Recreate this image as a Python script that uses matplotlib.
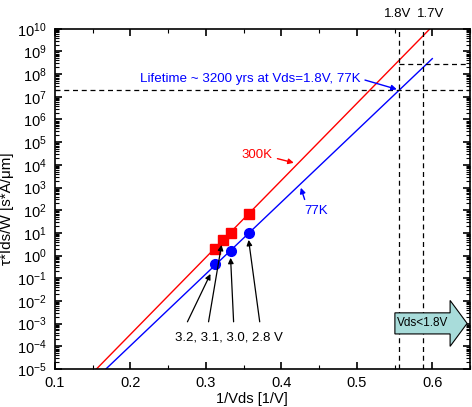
import numpy as np
import matplotlib
matplotlib.use('Agg')
import matplotlib.pyplot as plt
from matplotlib.ticker import LogLocator, MultipleLocator, NullFormatter
from matplotlib.patches import FancyArrow

plt.rcParams['font.family'] = ['Liberation Sans', 'DejaVu Sans']
plt.rcParams['mathtext.fontset'] = 'custom'
plt.rcParams['mathtext.rm'] = 'Liberation Sans'
plt.rcParams['mathtext.it'] = 'Liberation Sans:italic'

# measured stress voltages (V) and 1/Vds
vds_300k = [3.2, 3.1, 3.0, 2.8]
tau_300k = [2.0, 4.9, 10.0, 69.0]
vds_77k = [3.2, 3.0, 2.8]
tau_77k = [0.43, 1.6, 10.0]

# extrapolated fit lines (1/Vds, tau*Ids/W)
fit_x_300k = [0.155, 0.597]
fit_y_300k = [1e-5, 1e10]
fit_x_77k = [0.1675, 0.600]
fit_y_77k = [1e-5, 4.8e8]

# lifetime criteria
vds_limits = [1.8, 1.7]
lifetime_target = 2e7
lifetime_17 = 2.8e8

fig = plt.figure(figsize=(4.72, 4.07), dpi=100)
ax = fig.add_axes([0.1165, 0.0934, 0.8793, 0.836])

ax.plot(fit_x_300k, fit_y_300k, color='red', lw=1)
ax.plot(fit_x_77k, fit_y_77k, color='blue', lw=1)
ax.plot(1 / np.array(vds_300k), tau_300k, 's', color='red', ms=6.5, mec='red')
ax.plot(1 / np.array(vds_77k), tau_77k, 'o', color='blue', ms=7, mec='blue')

# dashed guides
for v in vds_limits:
    ax.axvline(1 / v, color='black', ls=(0, (4, 3)), lw=0.9)
ax.axhline(lifetime_target, color='black', ls=(0, (4, 3)), lw=0.9)
ax.hlines(lifetime_17, 1 / vds_limits[0], 0.65, color='black', ls=(0, (4, 3)), lw=0.9)

for v, dx in zip(vds_limits, [-0.001, 0.009]):
    ax.text(1 / v + dx, 1.044, '%.1fV' % v, transform=ax.get_xaxis_transform(),
            ha='center', va='center', fontsize=9.5)

ax.set_yscale('log')
ax.set_xlim(0.1, 0.65)
ax.set_ylim(1e-5, 1e10)
ax.xaxis.set_major_locator(MultipleLocator(0.1))
ax.xaxis.set_minor_locator(MultipleLocator(0.05))
ax.yaxis.set_major_locator(LogLocator(base=10, numticks=30))
ax.yaxis.set_minor_locator(LogLocator(base=10, subs=np.arange(2, 10), numticks=200))
ax.yaxis.set_minor_formatter(NullFormatter())
ax.tick_params(which='both', direction='in', top=True, right=True, labelsize=10.5)
ax.tick_params(which='major', length=5, width=1.2)
ax.tick_params(which='minor', length=3, width=0.8)
ax.tick_params(axis='x', pad=5)
ax.tick_params(axis='y', pad=6)
for s in ax.spines.values():
    s.set_linewidth(1.2)

ax.set_xlabel('1/Vds [1/V]', fontsize=10.5)
ax.xaxis.set_label_coords(0.475, -0.068)
ax.set_ylabel('τ*Ids/W [s*A/μm]', fontsize=11)
ax.yaxis.set_label_coords(-0.098, 0.47)

# annotations
ax.annotate('Lifetime ~ 3200 yrs at Vds=1.8V, 77K', xy=(0.553, 10**7.33),
            xytext=(0.213, 10**7.79), color='blue', fontsize=9.6, va='center',
            arrowprops=dict(arrowstyle='-|>', color='blue', lw=1, relpos=(1, 0.5),
                            shrinkA=1, shrinkB=0, mutation_scale=8))
ax.annotate('300K', xy=(0.4165, 10**4.09), xytext=(0.367, 10**4.44),
            color='red', fontsize=9.5, ha='center', va='center',
            arrowprops=dict(arrowstyle='-|>', color='red', lw=1, relpos=(1, 0.3),
                            shrinkA=2, shrinkB=0, mutation_scale=8))
ax.annotate('77K', xy=(0.4258, 10**2.99), xytext=(0.4457, 10**1.97),
            color='blue', fontsize=9.5, ha='center', va='center',
            arrowprops=dict(arrowstyle='-|>', color='blue', lw=1, relpos=(0.1, 1),
                            shrinkA=2, shrinkB=0, mutation_scale=8))

ax.text(0.330, 10**-3.59, '3.2, 3.1, 3.0, 2.8 V', fontsize=9.5, ha='center', va='center')
tails = [(0.2755, 10**-2.92), (0.3035, 10**-2.92), (0.3367, 10**-2.92), (0.3713, 10**-2.92)]
heads = [(0.306, 10**-0.81), (0.3207, 10**0.47), (0.3327, 10**-0.10), (0.3566, 10**0.69)]
for t, h in zip(tails, heads):
    ax.annotate('', xy=h, xytext=t,
                arrowprops=dict(arrowstyle='-|>', color='black', lw=0.9,
                                shrinkA=0, shrinkB=0, mutation_scale=8))

arr = FancyArrow(0.819, 0.134, 0.174, 0, width=0.062, head_width=0.135,
                 head_length=0.041, length_includes_head=True,
                 transform=ax.transAxes, fc='#a8dcda', ec='black', lw=0.8, zorder=5)
ax.add_patch(arr)
ax.text(0.887, 0.134, 'Vds<1.8V', transform=ax.transAxes, fontsize=8.5,
        ha='center', va='center', zorder=6)

fig.savefig('out.png', dpi=100)
